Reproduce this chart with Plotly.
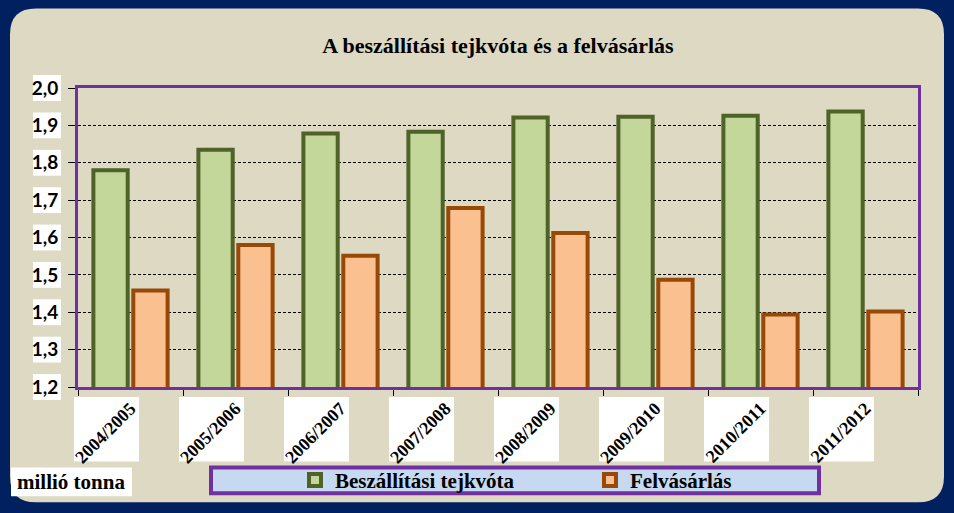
import plotly.graph_objects as go

# ---- data ----
seasons = ["2004/2005", "2005/2006", "2006/2007", "2007/2008",
           "2008/2009", "2009/2010", "2010/2011", "2011/2012"]
quota = [1.780, 1.835, 1.878, 1.883, 1.921, 1.923, 1.926, 1.937]
purchase = [1.458, 1.580, 1.551, 1.679, 1.612, 1.487, 1.394, 1.402]
y_ticks = [1.2, 1.3, 1.4, 1.5, 1.6, 1.7, 1.8, 1.9, 2.0]
y_tick_labels = ["1,2", "1,3", "1,4", "1,5", "1,6", "1,7", "1,8", "1,9", "2,0"]
series_names = ["Beszállítási tejkvóta", "Felvásárlás"]
title_text = "A beszállítási tejkvóta és a felvásárlás"
unit_label = "millió tonna"

# ---- geometry helpers ----
W, H = 954, 513
L, R, T, B = 78, 36, 88, 124
PW, PH = W - L - R, H - T - B
Y0, Y1 = y_ticks[0], y_ticks[-1]


def xp(px):
    return (px - L) / PW


def yp(py):
    return (H - B - py) / PH


SERIF = "Liberation Serif, Times New Roman, serif"
SANS = "Lato, Carlito, Calibri, sans-serif"
PURPLE = "#7030A0"
PLOTBG = "#C6D9F1"
PANEL = "#DDD9C3"
NAVY = "#002060"

shapes = []

# rounded beige panel
x0, x1, y0, y1, r = 10, 944, 8, 505, 26
pts = [
    ("M", [(x0 + r, y0)]), ("L", [(x1 - r, y0)]), ("Q", [(x1, y0), (x1, y0 + r)]),
    ("L", [(x1, y1 - r)]), ("Q", [(x1, y1), (x1 - r, y1)]), ("L", [(x0 + r, y1)]),
    ("Q", [(x0, y1), (x0, y1 - r)]), ("L", [(x0, y0 + r)]), ("Q", [(x0, y0), (x0 + r, y0)]),
]
path = ""
for cmd, ps in pts:
    path += cmd + " ".join(f"{xp(a):.5f},{yp(b):.5f}" for a, b in ps) + " "
path += "Z"
shapes.append(dict(type="path", path=path, xref="paper", yref="paper",
                   fillcolor=PANEL, line=dict(width=0), layer="below"))

# white boxes behind y tick labels
for v in y_ticks:
    yc = (v - Y0) / (Y1 - Y0)
    shapes.append(dict(type="rect", xref="paper", yref="paper",
                       x0=xp(33), x1=xp(61), y0=yc - 13 / PH, y1=yc + 13 / PH,
                       fillcolor="white", line=dict(width=0), layer="below"))

# white boxes behind x tick labels
n = len(seasons)
for i in range(n):
    c = (i + 0.5) / n
    shapes.append(dict(type="rect", xref="paper", yref="paper",
                       x0=c - 56.5 / PW, x1=c + 8.5 / PW, y0=yp(464), y1=yp(399),
                       fillcolor="white", line=dict(width=0), layer="below"))

# legend box
shapes.append(dict(type="rect", xref="paper", yref="paper",
                   x0=xp(211), x1=xp(819), y0=yp(496), y1=yp(470),
                   fillcolor=PLOTBG, line=dict(color=PURPLE, width=4), layer="below"))

# unit label box
shapes.append(dict(type="rect", xref="paper", yref="paper",
                   x0=xp(11), x1=xp(132), y0=yp(499), y1=yp(470),
                   fillcolor="white", line=dict(width=0), layer="below"))

fig = go.Figure()
fig.add_trace(go.Bar(x=seasons, y=quota, name=series_names[0],
                     marker=dict(color="#C4D79B", line=dict(color="#4F6228", width=4))))
fig.add_trace(go.Bar(x=seasons, y=purchase, name=series_names[1],
                     marker=dict(color="#FAC090", line=dict(color="#984807", width=4))))

fig.update_layout(
    width=W, height=H,
    margin=dict(l=L, r=R, t=T, b=B, pad=0),
    paper_bgcolor=NAVY, plot_bgcolor=PLOTBG,
    barmode="group", bargap=0.24, bargroupgap=0.14,
    title=dict(text=title_text, x=498 / W, xanchor="center", y=1 - 45 / H, yanchor="middle",
               font=dict(family=SERIF, size=22, color="black", weight="bold")),
    showlegend=True,
    legend=dict(orientation="h", x=xp(295), y=yp(483), xanchor="left", yanchor="middle",
                bgcolor="rgba(0,0,0,0)", borderwidth=0, entrywidth=250,
                font=dict(family=SERIF, size=21, color="black", weight="bold")),
    shapes=shapes,
    annotations=[dict(text=unit_label, xref="paper", yref="paper", x=xp(71), y=yp(485),
                      xanchor="center", yanchor="middle", showarrow=False,
                      font=dict(family=SERIF, size=21, color="black", weight="bold"))],
    xaxis=dict(tickangle=-45, tickson="boundaries", ticks="outside", ticklen=6,
               tickcolor="black", showline=True, linecolor=PURPLE, linewidth=3, mirror=True,
               tickfont=dict(family=SERIF, size=18, color="black", weight="bold"),
               ticklabelstandoff=1, showgrid=False),
    yaxis=dict(range=[Y0, Y1], tickvals=y_ticks, ticktext=y_tick_labels,
               ticks="outside", ticklen=7, tickcolor="black",
               showline=True, linecolor=PURPLE, linewidth=3, mirror=True,
               showgrid=True, gridcolor="black", gridwidth=1, griddash="3px,2px",
               zeroline=False, ticklabelstandoff=6,
               tickfont=dict(family=SANS, size=19, color="black", weight="bold")),
)

fig.write_html("out.html")
